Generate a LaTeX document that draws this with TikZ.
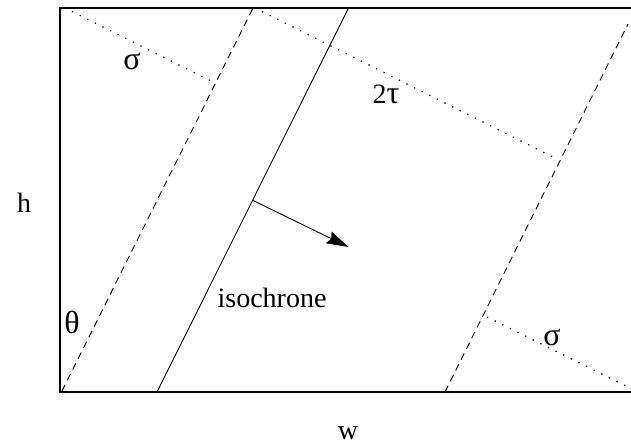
\documentclass[tikz,border=0pt]{standalone}
\usepackage{fontspec}
\setmainfont{Liberation Serif}
\usetikzlibrary{arrows.meta}
\begin{document}
\begin{tikzpicture}[x=1pt,y=-1pt,
  lab/.style={inner sep=0pt,font=\fontsize{28}{30}\selectfont},
  glab/.style={inner sep=0pt,font=\fontsize{32}{34}\selectfont},
  frame/.style={line width=2pt},
  thin/.style={line width=0.9pt},
  dashline/.style={line width=0.9pt,dash pattern=on 7pt off 5pt},
  dotline/.style={line width=1.3pt,dash pattern=on 1.3pt off 7.2pt}]
\useasboundingbox (0,0) rectangle (631,446);
% frame corners
\coordinate (tl) at (60,8);
\coordinate (bl) at (60,392);
\coordinate (tr) at (632,8);
\coordinate (br) at (632,392);
\draw[frame] (tr) -- (tl) -- (bl) -- (br);
% left dashed line
\coordinate (d1b) at (62,391);
\coordinate (d1t) at (253,8);
\draw[dashline] (d1b) -- (d1t);
% isochrone
\coordinate (isob) at (157,392);
\coordinate (isot) at (348.5,8);
\draw[thin] (isob) -- (isot);
% right dashed line
\coordinate (d2b) at (445,392);
\coordinate (d2t) at (628,24);
\draw[dashline] (d2b) -- (d2t);
% arrow
\coordinate (a0) at (252,200);
\coordinate (a1) at (348.5,247);
\draw[thin,-{Stealth[length=22pt,width=13pt,inset=3pt]}] (a0) -- (a1);
% dotted lines
\coordinate (p1) at (72,11.5);
\coordinate (p2) at (212,81.5);
\draw[dotline] (p1) -- (p2);
\coordinate (q1) at (262,11.5);
\coordinate (q2) at (557,159);
\draw[dotline] (q1) -- (q2);
\coordinate (r1) at (487,317);
\coordinate (r2) at (626,386);
\draw[dotline] (r1) -- (r2);
% labels
\node[lab] (h) at (24,203) {h};
\node[glab] (sig1) at (132,61) {σ};
\node[lab] (tau) at (386,94) {2\fontsize{32}{34}\selectfont τ};
\node[glab] (theta) at (72,322) {θ};
\node[lab] (iso) at (272,298) {isochrone};
\node[glab] (sig2) at (552,337) {σ};
\node[lab] (w) at (348,433) {w};
\end{tikzpicture}
\end{document}
